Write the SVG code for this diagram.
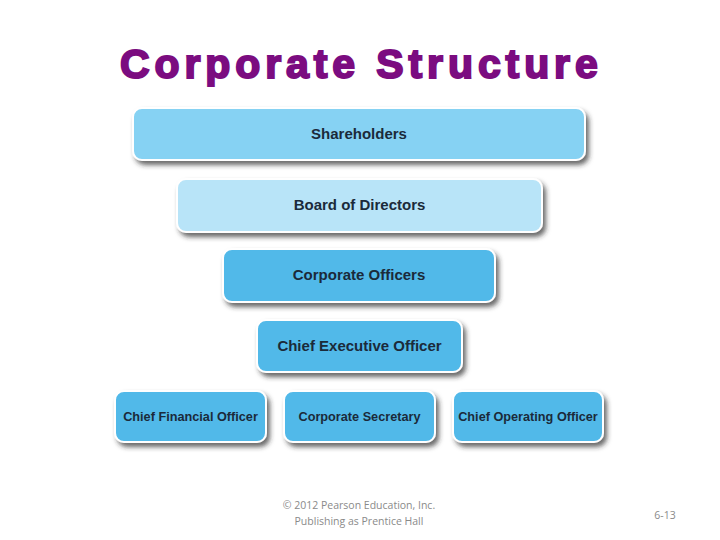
<svg xmlns="http://www.w3.org/2000/svg" width="720" height="540" viewBox="0 0 720 540">
<defs>
<filter id="sh" x="-10%" y="-30%" width="125%" height="170%">
<feDropShadow dx="3" dy="4" stdDeviation="2.5" flood-color="#2a2a2a" flood-opacity="0.7"/>
</filter>
<style>
.box{stroke:#ffffff;stroke-width:2;filter:url(#sh)}
.b1{fill:#86d2f3}
.b2{fill:#b8e4f8}
.b3{fill:#51b9e9}
.lbl{font-family:"Liberation Sans",Arial,sans-serif;font-weight:bold;fill:#1b2a3a;text-anchor:middle}
.big{font-size:15px}
.sm{font-size:12.7px}
.foot{font-family:"Open Sans","Liberation Sans",sans-serif;fill:#8a8a8a;font-size:10.5px}
</style>
</defs>
<rect width="720" height="540" fill="#ffffff"/>
<text x="120" y="78" font-family="'Liberation Sans',Arial,sans-serif" font-weight="bold" font-size="41" letter-spacing="4.9" fill="#7b0c80" stroke="#7b0c80" stroke-width="2">Corporate Structure</text>
<g id="connectors"></g>
<g id="shareholders"><rect class="box b1" x="133" y="108" width="452" height="52" rx="9"/><text class="lbl big" x="359" y="139">Shareholders</text></g>
<g id="board"><rect class="box b2" x="177" y="179" width="365" height="53" rx="9"/><text class="lbl big" x="359.5" y="210">Board of Directors</text></g>
<g id="officers"><rect class="box b3" x="223" y="249" width="272" height="53" rx="9"/><text class="lbl big" x="359" y="280">Corporate Officers</text></g>
<g id="ceo"><rect class="box b3" x="257" y="320" width="205" height="52" rx="9"/><text class="lbl big" x="359.5" y="351">Chief Executive Officer</text></g>
<g id="cfo"><rect class="box b3" x="115" y="391" width="151" height="51" rx="9"/><text class="lbl sm" x="190.5" y="421">Chief Financial Officer</text></g>
<g id="secretary"><rect class="box b3" x="284" y="391" width="151" height="51" rx="9"/><text class="lbl sm" x="359.5" y="421">Corporate Secretary</text></g>
<g id="coo"><rect class="box b3" x="453" y="391" width="150" height="51" rx="9"/><text class="lbl sm" x="528" y="421">Chief Operating Officer</text></g>
<text class="foot" x="359" y="509" text-anchor="middle">© 2012 Pearson Education, Inc.</text>
<text class="foot" x="359" y="525" text-anchor="middle">Publishing as Prentice Hall</text>
<text class="foot" x="665" y="519" text-anchor="middle">6-13</text>
</svg>
